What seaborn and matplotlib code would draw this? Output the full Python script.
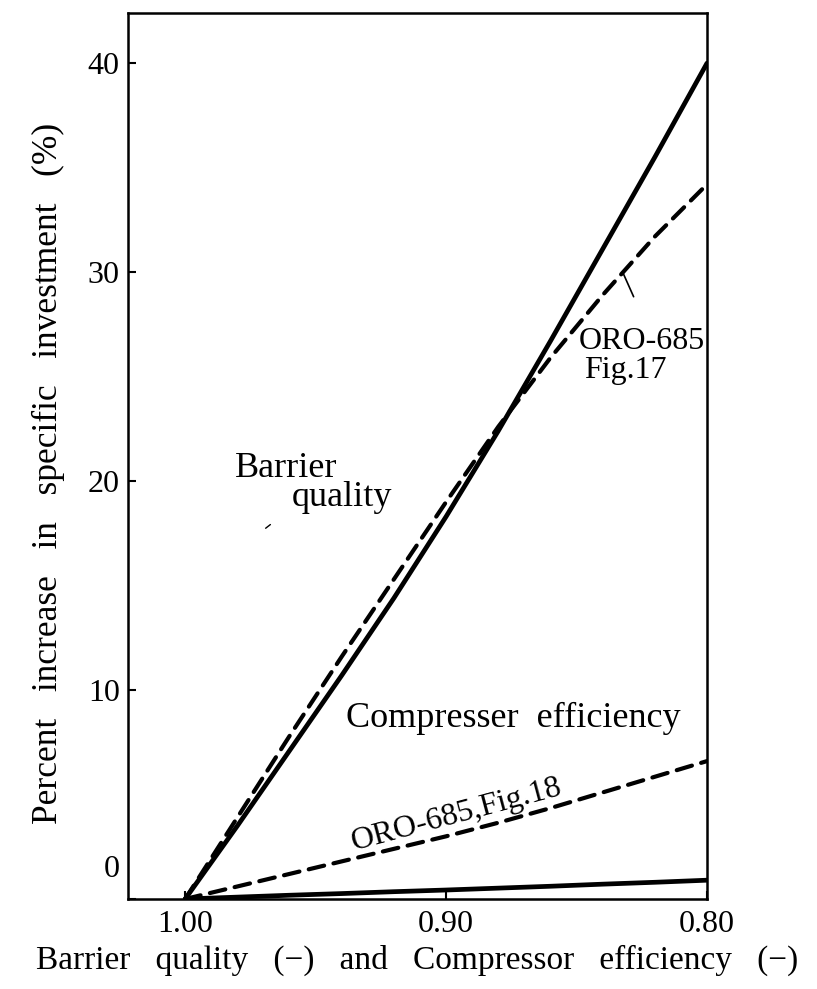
import numpy as np
import pandas as pd
import matplotlib
matplotlib.use("Agg")
import matplotlib.pyplot as plt
from matplotlib.transforms import ScaledTranslation
import seaborn as sns

# ---- data ----
x_grid = [1.00, 0.98, 0.96, 0.94, 0.92, 0.90, 0.88, 0.86, 0.84, 0.82, 0.80]
barrier_quality = [0.0, 3.5, 7.1, 10.7, 14.4, 18.3, 22.4, 26.7, 31.1, 35.5, 40.0]
barrier_oro_fig17 = [0.0, 3.9, 7.8, 11.6, 15.3, 19.0, 22.6, 25.9, 28.9, 31.7, 34.2]
compressor_eff = [0.0, 0.09, 0.18, 0.26, 0.35, 0.43, 0.52, 0.61, 0.71, 0.80, 0.90]
compressor_oro_fig18 = [0.0, 0.6, 1.2, 1.8, 2.4, 3.0, 3.65, 4.35, 5.1, 5.85, 6.6]

x_ticks = [1.00, 0.90, 0.80]
x_ticklabels = ["1.00", "0.90", "0.80"]
y_ticks = [0, 10, 20, 30, 40]

sns.set_theme(style="ticks")
plt.rcParams["font.family"] = ["Liberation Serif", "DejaVu Serif"]
plt.rcParams["text.color"] = "black"
plt.rcParams["axes.labelcolor"] = "black"
plt.rcParams["axes.linewidth"] = 1.8

fig = plt.figure(figsize=(8.17, 9.89), dpi=100)
ax = fig.add_axes([0.1567, 0.0910, 0.7087, 0.8959])

series = [
    ("Barrier quality", barrier_quality, "-"),
    ("ORO-685 Fig.17", barrier_oro_fig17, "--"),
    ("Compresser efficiency", compressor_eff, "-"),
    ("ORO-685,Fig.18", compressor_oro_fig18, "--"),
]
for name, vals, ls in series:
    df = pd.DataFrame({"x": x_grid, "y": vals})
    if ls == "-":
        sns.lineplot(data=df, x="x", y="y", ax=ax, color="black", lw=3.4,
                     sort=False, estimator=None, solid_capstyle="round",
                     solid_joinstyle="round")
    else:
        sns.lineplot(data=df, x="x", y="y", ax=ax, color="black", lw=3.0,
                     sort=False, estimator=None, dashes=False,
                     linestyle=(0, (3.8, 2.3)), dash_capstyle="round")

ax.set_xlim(1.0219, 0.80)
ax.set_ylim(0, 42.4)
ax.set_xticks(x_ticks)
ax.set_xticklabels(x_ticklabels)
ax.set_yticks(y_ticks)
ax.tick_params(axis="both", direction="in", length=6, width=1.5,
               labelsize=23, colors="black")
ax.tick_params(axis="y", pad=6)
ax.tick_params(axis="x", pad=8)
for sp in ax.spines.values():
    sp.set_color("black")
    sp.set_linewidth(1.8)

# shift "0" label up as in reference
for lab in ax.get_yticklabels():
    if lab.get_text() == "0":
        lab.set_transform(lab.get_transform() + ScaledTranslation(0, 0.33, fig.dpi_scale_trans))

ax.set_xlabel("Barrier   quality   (\u2212)   and   Compressor   efficiency   (\u2212)",
              fontsize=24, labelpad=4, color="black")
ax.set_ylabel("Percent   increase   in   specific   investment   (%)",
              fontsize=25.5, color="black")
ax.yaxis.set_label_coords(-0.108, 0.48)

# annotations
ax.text(0.981, 20.6, "Barrier", fontsize=26, ha="left", va="center", color="black")
ax.text(0.959, 19.2, "quality", fontsize=26, ha="left", va="center", color="black")
ax.text(0.9385, 8.66, "Compresser  efficiency", fontsize=26, ha="left", va="center", color="black")
ax.text(0.849, 26.7, "ORO-685", fontsize=23, ha="left", va="center", color="black")
ax.text(0.847, 25.3, "Fig.17", fontsize=23, ha="left", va="center", color="black")
ax.text(0.896, 4.0, "ORO-685,Fig.18", fontsize=23, ha="center", va="center",
        rotation=15, color="black")
ax.annotate("", xy=(0.8327, 30.1), xytext=(0.8277, 28.7),
            arrowprops=dict(arrowstyle="-", color="black", lw=1.2))
ax.annotate("", xy=(0.9665, 18.0), xytext=(0.970, 17.66),
            arrowprops=dict(arrowstyle="-", color="black", lw=1.0))

fig.savefig("out.png", dpi=100)
